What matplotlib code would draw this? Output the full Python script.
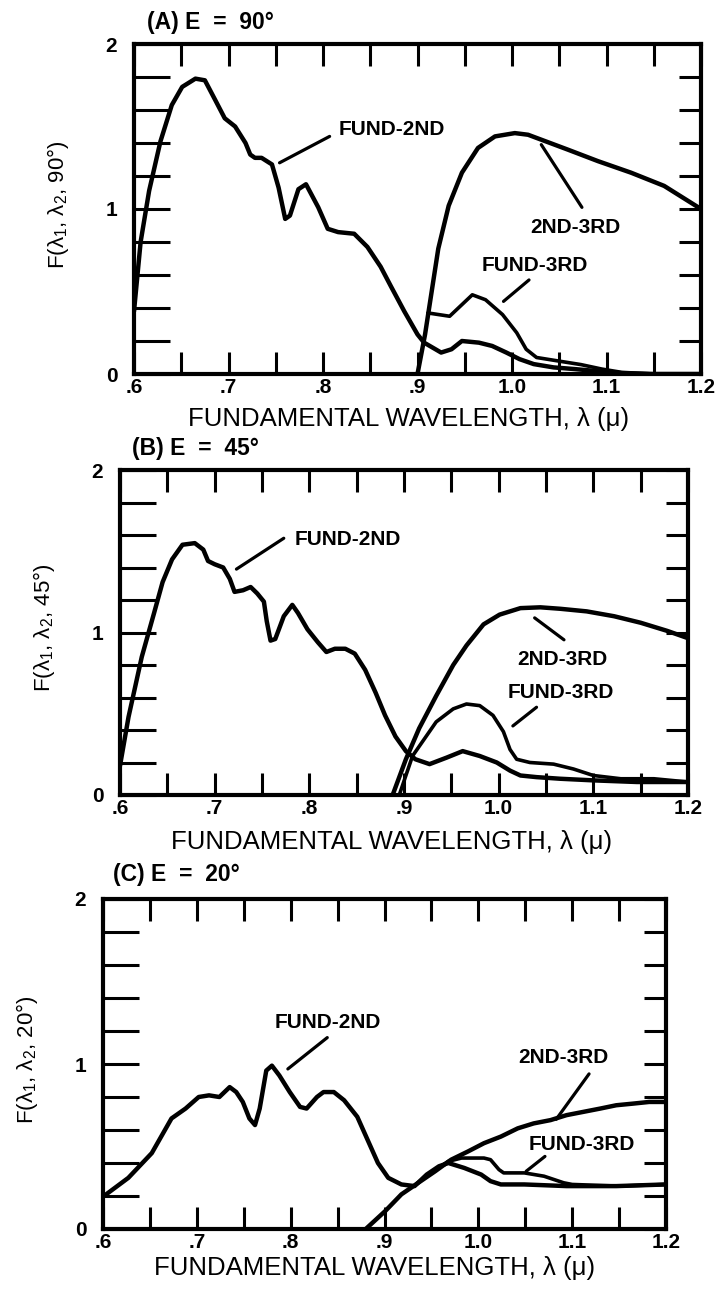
import matplotlib
matplotlib.use("Agg")
import matplotlib.pyplot as plt
from matplotlib.ticker import MultipleLocator, FuncFormatter

plt.rcParams['font.family'] = ['Liberation Sans', 'DejaVu Sans']
plt.rcParams['mathtext.default'] = 'regular'

W, H = 717, 1294  # output size in pixels

# ---- panel A, E = 90 deg ----
a_fund2nd_x = [0.600, 0.607, 0.616, 0.628, 0.640, 0.651, 0.665, 0.675, 0.686, 0.696,
               0.707, 0.718, 0.723, 0.728, 0.735, 0.746, 0.753, 0.760, 0.765, 0.774,
               0.782, 0.795, 0.805, 0.816, 0.833, 0.847, 0.861, 0.872, 0.886, 0.900,
               0.907, 0.925, 0.936, 0.947, 0.965, 0.979, 0.994, 1.008, 1.023, 1.044,
               1.066, 1.095, 1.116, 1.150, 1.200]
a_fund2nd_y = [0.38, 0.80, 1.11, 1.41, 1.63, 1.74, 1.79, 1.78, 1.66, 1.55,
               1.50, 1.40, 1.33, 1.31, 1.31, 1.27, 1.13, 0.94, 0.96, 1.12,
               1.15, 1.01, 0.88, 0.86, 0.85, 0.77, 0.65, 0.53, 0.38, 0.24,
               0.19, 0.13, 0.15, 0.20, 0.19, 0.17, 0.13, 0.09, 0.06, 0.04,
               0.03, 0.015, 0.005, 0.0, 0.0]
a_2nd3rd_x = [0.900, 0.908, 0.915, 0.922, 0.933, 0.947, 0.964, 0.982, 1.003, 1.017,
              1.031, 1.059, 1.091, 1.126, 1.161, 1.200]
a_2nd3rd_y = [0.0, 0.24, 0.50, 0.76, 1.02, 1.22, 1.37, 1.44, 1.46, 1.45,
              1.42, 1.36, 1.29, 1.22, 1.14, 1.00]
a_fund3rd_x = [0.911, 0.934, 0.958, 0.972, 0.990, 1.005, 1.015, 1.026, 1.051, 1.073,
               1.095, 1.116, 1.150, 1.200]
a_fund3rd_y = [0.37, 0.35, 0.48, 0.45, 0.36, 0.25, 0.15, 0.10, 0.077, 0.057,
               0.03, 0.01, 0.0, 0.0]

# ---- panel B, E = 45 deg ----
b_fund2nd_x = [0.600, 0.609, 0.623, 0.636, 0.645, 0.655, 0.666, 0.679, 0.688, 0.693,
               0.700, 0.709, 0.716, 0.721, 0.730, 0.738, 0.745, 0.752, 0.755, 0.759,
               0.764, 0.773, 0.782, 0.788, 0.798, 0.809, 0.818, 0.827, 0.838, 0.848,
               0.859, 0.870, 0.880, 0.891, 0.902, 0.912, 0.927, 0.945, 0.962, 0.980,
               0.998, 1.012, 1.023, 1.040, 1.065, 1.100, 1.146, 1.200]
b_fund2nd_y = [0.18, 0.48, 0.85, 1.12, 1.31, 1.45, 1.54, 1.55, 1.51, 1.44,
               1.42, 1.40, 1.33, 1.25, 1.26, 1.28, 1.24, 1.19, 1.07, 0.95,
               0.96, 1.10, 1.17, 1.12, 1.02, 0.94, 0.88, 0.90, 0.90, 0.87,
               0.77, 0.63, 0.49, 0.36, 0.27, 0.22, 0.19, 0.23, 0.27, 0.24,
               0.20, 0.15, 0.12, 0.11, 0.10, 0.09, 0.08, 0.08]
b_2nd3rd_x = [0.888, 0.902, 0.916, 0.934, 0.952, 0.966, 0.984, 1.001, 1.023, 1.044,
              1.065, 1.093, 1.122, 1.150, 1.178, 1.200]
b_2nd3rd_y = [0.0, 0.22, 0.41, 0.61, 0.80, 0.92, 1.05, 1.11, 1.15, 1.155,
              1.146, 1.13, 1.10, 1.06, 1.01, 0.965]
b_fund3rd_x = [0.895, 0.909, 0.934, 0.952, 0.966, 0.980, 0.994, 1.005, 1.012, 1.019,
               1.033, 1.058, 1.079, 1.100, 1.129, 1.164, 1.200]
b_fund3rd_y = [0.0, 0.24, 0.45, 0.53, 0.56, 0.55, 0.49, 0.39, 0.28, 0.22,
               0.20, 0.19, 0.16, 0.12, 0.10, 0.10, 0.08]

# ---- panel C, E = 20 deg ----
c_fund2nd_x = [0.601, 0.627, 0.652, 0.673, 0.688, 0.702, 0.713, 0.724, 0.735, 0.742,
               0.749, 0.756, 0.762, 0.767, 0.774, 0.780, 0.788, 0.799, 0.810, 0.817,
               0.828, 0.835, 0.846, 0.857, 0.871, 0.882, 0.893, 0.904, 0.918, 0.932,
               0.945, 0.958, 0.968, 0.985, 1.003, 1.013, 1.024, 1.049, 1.094, 1.147,
               1.200]
c_fund2nd_y = [0.20, 0.31, 0.46, 0.67, 0.73, 0.80, 0.81, 0.80, 0.86, 0.83,
               0.77, 0.67, 0.63, 0.73, 0.96, 0.99, 0.93, 0.83, 0.74, 0.73,
               0.80, 0.83, 0.83, 0.78, 0.68, 0.54, 0.40, 0.31, 0.27, 0.26,
               0.33, 0.38, 0.40, 0.37, 0.33, 0.29, 0.27, 0.27, 0.26, 0.26,
               0.27]
c_2nd3rd_x = [0.880, 0.901, 0.918, 0.936, 0.954, 0.971, 0.989, 1.006, 1.024, 1.042,
              1.059, 1.077, 1.094, 1.112, 1.130, 1.147, 1.165, 1.182, 1.200]
c_2nd3rd_y = [0.0, 0.11, 0.21, 0.28, 0.35, 0.42, 0.47, 0.52, 0.56, 0.61,
              0.64, 0.66, 0.69, 0.71, 0.73, 0.75, 0.76, 0.77, 0.77]
c_fund3rd_x = [0.955, 0.968, 0.982, 1.006, 1.013, 1.022, 1.027, 1.049, 1.070, 1.091,
               1.100, 1.150, 1.200]
c_fund3rd_y = [0.36, 0.41, 0.43, 0.43, 0.42, 0.36, 0.34, 0.34, 0.32, 0.28,
               0.27, 0.26, 0.27]

titles = ["(A) E  =  90°", "(B) E  =  45°", "(C) E  =  20°"]
angles = ["90°", "45°", "20°"]
x_label = "FUNDAMENTAL WAVELENGTH, λ (μ)"

# axes boxes in pixels: left, top, right, bottom
boxes = [(134, 44, 701, 374), (120, 470, 688, 795), (103, 899, 666, 1229)]
title_pos = [(147, 22), (132, 448), (113, 875)]
ylabel_pos = [(58, 205), (44, 628), (27, 1060)]
xlabel_pos = [(409, 419), (392, 842), (375, 1268)]

# label text positions / leader lines, data coords
labels = [
    [("FUND-2ND", 0.817, 1.48, (0.754, 1.28), (0.807, 1.44)),
     ("2ND-3RD", 1.019, 0.89, (1.031, 1.39), (1.074, 1.01)),
     ("FUND-3RD", 0.968, 0.66, (0.991, 0.44), (1.018, 0.57))],
    [("FUND-2ND", 0.784, 1.57, (0.723, 1.39), (0.773, 1.58)),
     ("2ND-3RD", 1.020, 0.835, (1.038, 1.09), (1.069, 0.955)),
     ("FUND-3RD", 1.009, 0.63, (1.015, 0.425), (1.040, 0.54))],
    [("FUND-2ND", 0.783, 1.25, (0.797, 0.97), (0.839, 1.16)),
     ("2ND-3RD", 1.043, 1.04, (1.083, 0.665), (1.118, 0.94)),
     ("FUND-3RD", 1.054, 0.51, (1.051, 0.35), (1.071, 0.44))],
]

series = [
    [(a_fund2nd_x, a_fund2nd_y), (a_2nd3rd_x, a_2nd3rd_y), (a_fund3rd_x, a_fund3rd_y)],
    [(b_fund2nd_x, b_fund2nd_y), (b_2nd3rd_x, b_2nd3rd_y), (b_fund3rd_x, b_fund3rd_y)],
    [(c_fund2nd_x, c_fund2nd_y), (c_2nd3rd_x, c_2nd3rd_y), (c_fund3rd_x, c_fund3rd_y)],
]
line_widths = [3.2, 3.2, 2.6]


def xfmt(v, pos):
    if abs(v * 10 - round(v * 10)) > 1e-6:
        return ""
    s = f"{v:.1f}"
    return s[1:] if v < 1 else s


def yfmt(v, pos):
    if abs(v - round(v)) > 1e-6:
        return ""
    return str(int(round(v)))


fig = plt.figure(figsize=(W / 100, H / 100), dpi=100)

for i in range(3):
    l, t, r, b = boxes[i]
    ax = fig.add_axes([l / W, 1 - b / H, (r - l) / W, (b - t) / H])
    for (xs, ys), lw in zip(series[i], line_widths):
        ax.plot(xs, ys, color="black", lw=lw, solid_joinstyle="round",
                solid_capstyle="round")

    ax.set_xlim(0.6, 1.2)
    ax.set_ylim(0, 2)
    ax.xaxis.set_major_locator(MultipleLocator(0.05))
    ax.xaxis.set_major_formatter(FuncFormatter(xfmt))
    ax.yaxis.set_major_locator(MultipleLocator(0.2))
    ax.yaxis.set_major_formatter(FuncFormatter(yfmt))
    ax.tick_params(axis="x", direction="in", length=16, width=2.2, top=True,
                   bottom=True, labelsize=15, pad=3)
    ax.tick_params(axis="y", direction="in", length=26, width=2.2, left=True,
                   right=False, labelsize=15, pad=12)
    for lab in ax.get_xticklabels() + ax.get_yticklabels():
        lab.set_fontweight("bold")
    for sp in ax.spines.values():
        sp.set_linewidth(3)

    # shorter ticks on the right edge
    ax2 = ax.twinx()
    ax2.set_ylim(0, 2)
    ax2.yaxis.set_major_locator(MultipleLocator(0.2))
    ax2.tick_params(axis="y", direction="in", length=16, width=2.2,
                    labelright=False)
    for sp in ax2.spines.values():
        sp.set_visible(False)

    for text, tx, ty, p1, p2 in labels[i]:
        ax.text(tx, ty, text, fontsize=15, fontweight="bold", ha="left", va="center")
        ax.annotate("", xy=p1, xytext=p2,
                    arrowprops=dict(arrowstyle="-", lw=2.3, color="black",
                                    shrinkA=0, shrinkB=0))

    px, py = title_pos[i]
    fig.text(px / W, 1 - py / H, titles[i], fontsize=16.5, fontweight="bold",
             ha="left", va="center")
    px, py = ylabel_pos[i]
    fig.text(px / W, 1 - py / H,
             r"F($\lambda_1$, $\lambda_2$, " + angles[i] + ")",
             fontsize=16, rotation=90, ha="center", va="center")
    px, py = xlabel_pos[i]
    fig.text(px / W, 1 - py / H, x_label, fontsize=18.5, ha="center", va="center")

fig.savefig("out.png", dpi=100)
